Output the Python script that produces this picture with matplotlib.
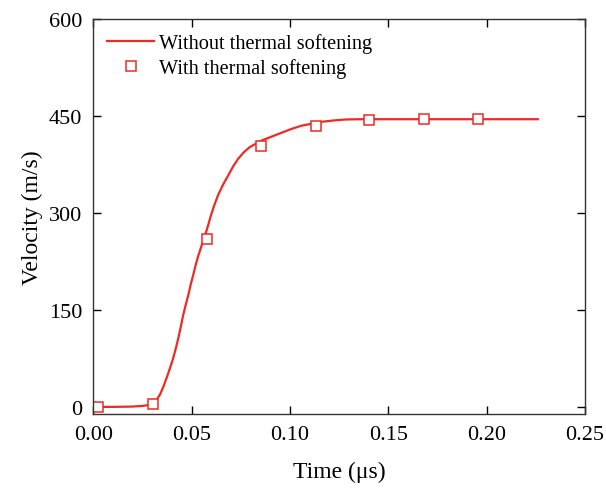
import matplotlib
matplotlib.use("Agg")
import matplotlib.pyplot as plt

plt.rcParams['font.family'] = ['Liberation Serif', 'DejaVu Serif']

# Line: without thermal softening
line_t = [0.000, 0.010, 0.020, 0.025, 0.0285, 0.0305, 0.0322, 0.0339, 0.0356, 0.0373,
          0.039, 0.0407, 0.0420, 0.0432, 0.0445, 0.0457, 0.0470, 0.0483, 0.0495, 0.0508,
          0.0521, 0.0534, 0.0547, 0.0559, 0.0572, 0.0584, 0.0597, 0.0614, 0.0635, 0.0660,
          0.0686, 0.0711, 0.0737, 0.0766, 0.0796, 0.0826, 0.0856, 0.0906, 0.0957, 0.1008,
          0.1059, 0.1110, 0.1161, 0.1220, 0.1279, 0.1350, 0.145, 0.160, 0.190, 0.226]
line_v = [0, 0, 0.5, 1.5, 3, 6, 11, 19, 31, 45,
          60, 76, 91, 106, 124, 142, 158, 173, 189, 204,
          220, 234, 246, 257, 269, 281, 295, 311, 328, 344,
          358, 372, 384, 394, 402, 407, 412, 418, 424, 430,
          435, 438, 441, 443, 444.5, 445, 445, 445, 445, 445]

# Markers: with thermal softening
mark_t = [0.0024, 0.0304, 0.0578, 0.0851, 0.1131, 0.1402, 0.168, 0.1955]
mark_v = [0, 4, 260, 403, 434, 443, 445, 445]

xticks = [0.00, 0.05, 0.10, 0.15, 0.20, 0.25]
yticks = [0, 150, 300, 450, 600]

fig = plt.figure(figsize=(6.06, 4.89), dpi=100)
ax = fig.add_axes([93.3/606, 1-415/489, (585-93.3)/606, (415-20)/489])

red = '#ee2a24'
ax.plot(line_t, line_v, color=red, lw=1.6, label='Without thermal softening')
ax.plot(mark_t, mark_v, ls='none', marker='s', ms=7, mfc='white', mec=red, mew=1.1,
        label='With thermal softening')

ax.set_xlim(0, 0.25)
ax.set_ylim(-11, 600)
ax.set_xticks(xticks)
ax.set_xticklabels([f'{t:.2f}' for t in xticks])
ax.set_yticks(yticks)
ax.tick_params(direction='in', top=True, right=True, labelsize=16, length=6, width=1,
               pad=8)
ax.set_xlabel('Time (μs)', fontsize=17, labelpad=12)
ax.set_ylabel('Velocity (m/s)', fontsize=17, labelpad=4)
for s in ax.spines.values():
    s.set_linewidth(1)
    s.set_color('#333333')

ax.legend(loc='upper left', frameon=False, fontsize=14.6, handlelength=2.3,
          handletextpad=0.25, bbox_to_anchor=(0.0, 1.0), borderaxespad=0.3,
          labelspacing=0.25)

fig.savefig('out.png', dpi=100)
